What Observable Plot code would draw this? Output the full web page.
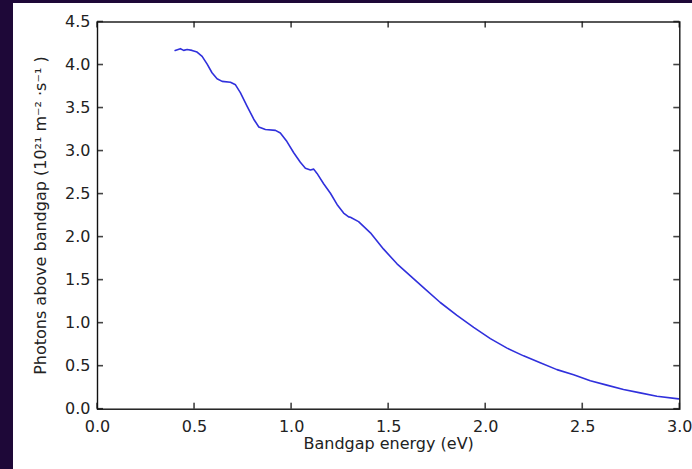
<!DOCTYPE html>
<html>
<head>
<meta charset="utf-8">
<script src="https://cdn.jsdelivr.net/npm/d3@7"></script>
<script src="https://cdn.jsdelivr.net/npm/@observablehq/plot@0.6"></script>
<style>
  html, body { margin: 0; padding: 0; background: #1e0838; width: 692px; height: 469px; overflow: hidden; }
  #panel { position: absolute; left: 13px; top: 3px; width: 679px; height: 466px; background: #ffffff; }
  svg { font-family: "DejaVu Sans", sans-serif; }
</style>
</head>
<body>
<div id="panel"></div>
<script>
const energy = [0.40, 0.427, 0.444, 0.462, 0.487, 0.513, 0.539, 0.565, 0.590, 0.616, 0.642, 0.685, 0.711, 0.736, 0.771, 0.805, 0.831, 0.865, 0.917, 0.942, 0.976, 1.011, 1.045, 1.071, 1.097, 1.114, 1.131, 1.165, 1.200, 1.234, 1.268, 1.294, 1.303, 1.345, 1.406, 1.474, 1.543, 1.612, 1.681, 1.766, 1.852, 1.938, 2.024, 2.110, 2.195, 2.281, 2.367, 2.453, 2.539, 2.624, 2.710, 2.796, 2.882, 2.994];
const photons = [4.17, 4.19, 4.17, 4.18, 4.17, 4.15, 4.10, 4.01, 3.91, 3.84, 3.81, 3.80, 3.77, 3.68, 3.52, 3.37, 3.28, 3.25, 3.24, 3.21, 3.11, 2.98, 2.87, 2.80, 2.78, 2.79, 2.74, 2.62, 2.51, 2.38, 2.28, 2.235, 2.23, 2.18, 2.05, 1.86, 1.69, 1.55, 1.41, 1.24, 1.09, 0.95, 0.82, 0.71, 0.62, 0.54, 0.46, 0.40, 0.33, 0.28, 0.23, 0.19, 0.15, 0.12];
const xTicks = [0.0, 0.5, 1.0, 1.5, 2.0, 2.5, 3.0];
const yTicks = [0.0, 0.5, 1.0, 1.5, 2.0, 2.5, 3.0, 3.5, 4.0, 4.5];
const xLabel = "Bandgap energy (eV)";
const yLabel = "Photons above bandgap (10²¹ m⁻² ·s⁻¹ )";

const data = energy.map((e, i) => ({energy: e, photons: photons[i]}));
const fmt = d => d.toFixed(1);

const W = 679, H = 466, mL = 84, mT = 18.5, mR = 12.7, mB = 60.3;
const fw = W - mL - mR, fh = H - mT - mB, tl = 6, hw = -0.8;

const chart = Plot.plot({
  width: W,
  height: H,
  marginLeft: mL,
  marginTop: mT,
  marginRight: mR,
  marginBottom: mB,
  style: {fontFamily: "DejaVu Sans, sans-serif", fontSize: "16px", color: "#222", background: "#ffffff"},
  x: {domain: [0, 3], ticks: xTicks, label: null},
  y: {domain: [0, 4.5], ticks: yTicks, label: null},
  marks: [
    Plot.line(data, {x: "energy", y: "photons", stroke: "#3030dc", strokeWidth: 1.6}),
    Plot.rect(xTicks, {x1: d => d, x2: d => d, insetLeft: hw, insetRight: hw, insetTop: fh - tl, fill: "#444"}),
    Plot.rect(xTicks, {x1: d => d, x2: d => d, insetLeft: hw, insetRight: hw, insetBottom: fh - tl, fill: "#444"}),
    Plot.rect(yTicks, {y1: d => d, y2: d => d, insetTop: hw, insetBottom: hw, insetRight: fw - tl, fill: "#444"}),
    Plot.rect(yTicks, {y1: d => d, y2: d => d, insetTop: hw, insetBottom: hw, insetLeft: fw - tl, fill: "#444"}),
    Plot.frame({stroke: "#111", strokeWidth: 1.4}),
    Plot.axisX(xTicks, {anchor: "bottom", tickSize: 0, tickPadding: 11, tickFormat: fmt, label: null, fill: "#222"}),
    Plot.axisY(yTicks, {anchor: "left", tickSize: 0, tickPadding: 7, tickFormat: fmt, label: null, fill: "#222"}),
    Plot.text([xLabel], {frameAnchor: "bottom", text: d => d, dy: 34.5, lineAnchor: "middle", textAnchor: "middle", fontSize: 16, fill: "#222"}),
    Plot.text([yLabel], {frameAnchor: "left", text: d => d, rotate: -90, dx: -57, lineAnchor: "middle", textAnchor: "middle", fontSize: 16, fill: "#222"})
  ]
});
document.getElementById("panel").appendChild(chart);
</script>
</body>
</html>
